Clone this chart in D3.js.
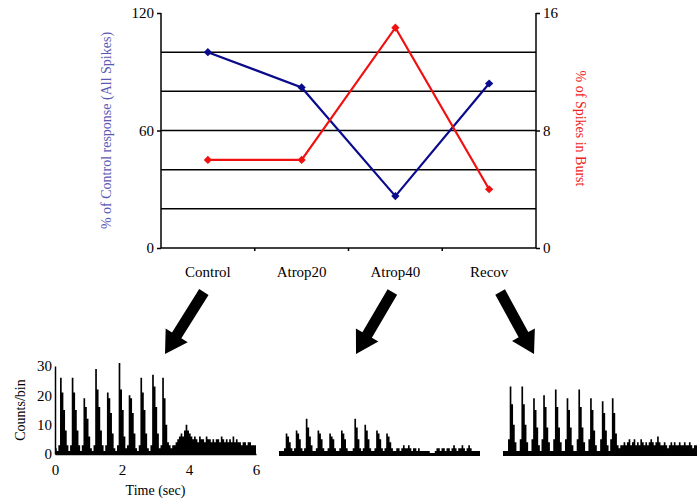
<!DOCTYPE html>
<html>
<head>
<meta charset="utf-8">
<script src="https://cdn.jsdelivr.net/npm/d3@7/dist/d3.min.js"></script>
<style>
  body { margin: 0; background: #fff; }
  svg { display: block; font-family: "Liberation Serif", "Times New Roman", serif; }
</style>
</head>
<body>
<div id="chart"></div>
<script>
// Top chart data
const conditions = ["Control", "Atrop20", "Atrop40", "Recov"];
const allSpikes = [100, 82, 26.5, 84];      // % of control response (left axis)
const burstSpikes = [6, 6, 15, 4];           // % of spikes in burst (right axis)
const leftTicks = [0, 60, 120];
const rightTicks = [0, 8, 16];
const gridValues = [20, 40, 60, 80, 100];

// Histogram data: counts per 50 ms bin over 6 s
const binWidth = 0.05;
const histTicks = [0, 2, 4, 6];
const countTicks = [0, 10, 20, 30];
const controlCounts = [
  2, 1, 3,
  26, 21, 15, 8, 3, 1, 3,
  26, 21, 15, 8, 3, 1, 3,
  19, 16, 12, 6, 2, 1, 3,
  29, 22, 16, 8, 3, 1, 3,
  21, 19, 14, 7, 2, 1, 3,
  31, 22, 15, 6, 2, 3,
  20, 19, 14, 7, 2, 1, 3,
  26, 21, 15, 7, 2, 1, 3,
  27, 23, 16, 7, 2, 3,
  26, 19, 10, 4, 3,
  2, 3, 3, 4, 5, 6, 7, 6, 8, 10,
  8, 7, 6, 5, 6, 5, 4, 6, 5, 5,
  4, 6, 5, 5, 4, 5, 4, 5, 5, 4,
  6, 5, 4, 5, 4, 5, 4, 6, 4, 5,
  4, 4, 3, 4, 4, 3, 4, 4, 3, 3, 3
];
const atrop40Counts = [
  1, 1, 1, 2,
  7, 6, 4, 2, 1, 2,
  8, 7, 5, 2, 1, 2,
  12, 9, 6, 3, 1, 1, 2,
  8, 7, 5, 2, 1, 1, 2,
  7, 6, 5, 2, 1, 1, 2,
  8, 7, 5, 2, 1, 1, 1, 2,
  12, 9, 5, 2, 1, 2,
  10, 8, 5, 2, 1, 1, 2,
  8, 7, 5, 2, 1, 2,
  7, 6, 4, 2, 1, 1,
  2, 2, 1, 2, 3, 2, 2, 3, 2, 1,
  2, 2, 1, 2, 1, 1, 1, 1, 1, 1,
  0, 0, 0, 1, 2, 2, 1, 2, 2, 1,
  2, 2, 1, 2, 3, 2, 1, 2, 2, 3,
  2, 1, 2, 3, 2, 1, 1, 1, 1, 1
];
const recovCounts = [
  1, 1, 1, 5,
  23, 17, 10, 4, 1, 1, 5,
  23, 17, 10, 4, 1, 1, 5,
  19, 15, 9, 3, 1, 5,
  20, 16, 9, 4, 1, 1, 5,
  22, 16, 9, 4, 1, 1, 5,
  19, 15, 9, 3, 1, 1, 5,
  22, 16, 9, 4, 1, 1, 5,
  19, 15, 8, 3, 1, 1, 5,
  18, 14, 8, 3, 1, 5,
  19, 14, 7, 3, 2,
  3, 3, 4, 3, 4, 5, 3, 4, 5, 3,
  4, 3, 5, 4, 3, 4, 3, 4, 5, 4,
  3, 4, 6, 4, 3, 3, 4, 3, 2, 3,
  4, 3, 4, 3, 3, 4, 3, 3, 4, 3,
  3, 4, 3, 2, 3, 3, 3, 2, 3, 3
];

const W = 697, H = 500;
const svg = d3.select("#chart").append("svg")
  .attr("width", W)
  .attr("height", H);

// ---------- top chart ----------
const plotL = 161, plotR = 536, plotT = 13, plotB = 248;
const x = d3.scaleBand().domain(conditions).range([plotL, plotR]);
const yL = d3.scaleLinear().domain([0, 120]).range([plotB, plotT]);
const yR = d3.scaleLinear().domain([0, 16]).range([plotB, plotT]);

// grid lines
svg.append("g").selectAll("line")
  .data(gridValues)
  .enter().append("line")
  .attr("x1", plotL).attr("x2", plotR)
  .attr("y1", d => yL(d)).attr("y2", d => yL(d))
  .style("stroke", "#000")
  .style("stroke-width", 1.5);

// left axis
const leftAxis = svg.append("g")
  .attr("transform", `translate(${plotL},0)`)
  .call(d3.axisLeft(yL).tickValues(leftTicks).tickSize(4).tickPadding(3));
// right axis
const rightAxis = svg.append("g")
  .attr("transform", `translate(${plotR},0)`)
  .call(d3.axisRight(yR).tickValues(rightTicks).tickSize(4).tickPadding(3));
// bottom axis
const bottomAxis = svg.append("g")
  .attr("transform", `translate(0,${plotB})`)
  .call(d3.axisBottom(x).tickSize(0).tickPadding(18));

[leftAxis, rightAxis, bottomAxis].forEach(g => {
  g.selectAll("path, line").style("stroke", "#000").style("stroke-width", 1.5);
  g.selectAll("text").style("font-family", "Liberation Serif").style("font-size", "15px").style("fill", "#000");
});
leftAxis.select(".domain").attr("d", `M0,${plotT}V${plotB}`);
rightAxis.select(".domain").attr("d", `M0,${plotT}V${plotB}`);
bottomAxis.select(".domain").attr("d", `M${plotL},0H${plotR}`);

// small boundary ticks between categories
bottomAxis.selectAll(".sep")
  .data(conditions.slice(1))
  .enter().append("line")
  .attr("class", "sep")
  .attr("x1", d => x(d)).attr("x2", d => x(d))
  .attr("y1", 0).attr("y2", 3)
  .style("stroke", "#000").style("stroke-width", 1.5);

// axis titles
svg.append("text")
  .attr("transform", `translate(106,${(plotT + plotB) / 2}) rotate(-90)`)
  .attr("text-anchor", "middle")
  .attr("dominant-baseline", "central")
  .style("font-size", "14px")
  .style("fill", "#5a5ab4")
  .text("% of Control response (All Spikes)");

svg.append("text")
  .attr("transform", `translate(580,${(plotT + plotB) / 2 - 2}) rotate(90)`)
  .attr("text-anchor", "middle")
  .attr("dominant-baseline", "central")
  .style("font-size", "14px")
  .style("fill", "#ee2222")
  .text("% of Spikes in Burst");

const cx = d => x(d) + x.bandwidth() / 2;

function drawSeries(values, yScale, color) {
  const pts = conditions.map((c, i) => [cx(c), yScale(values[i])]);
  svg.append("path")
    .datum(pts)
    .attr("d", d3.line())
    .style("fill", "none")
    .style("stroke", color)
    .style("stroke-width", 2.2);
  svg.append("g").selectAll("path")
    .data(pts)
    .enter().append("path")
    .attr("d", d3.symbol(d3.symbolSquare, 34))
    .attr("transform", d => `translate(${d[0]},${d[1]}) rotate(45)`)
    .style("fill", color);
}
drawSeries(allSpikes, yL, "#0a0a8c");
drawSeries(burstSpikes, yR, "#f01010");

// ---------- arrows ----------
function arrowPath(x1, y1, x2, y2) {
  const dx = x2 - x1, dy = y2 - y1;
  const len = Math.hypot(dx, dy);
  const ux = dx / len, uy = dy / len;
  const px = -uy, py = ux;
  const sw = 5.5, hw = 13, hl = 22;
  const bx = x2 - ux * hl, by = y2 - uy * hl;
  const p = [
    [x1 + px * sw, y1 + py * sw],
    [bx + px * sw, by + py * sw],
    [bx + px * hw, by + py * hw],
    [x2, y2],
    [bx - px * hw, by - py * hw],
    [bx - px * sw, by - py * sw],
    [x1 - px * sw, y1 - py * sw]
  ];
  return "M" + p.map(q => q.join(",")).join("L") + "Z";
}
const arrows = [
  [cx("Control") - 4, 292, 165, 354],
  [cx("Atrop40") - 3, 292, 356, 354],
  [cx("Recov") + 11, 292, 534, 354]
];
svg.append("g").selectAll("path")
  .data(arrows)
  .enter().append("path")
  .attr("d", d => arrowPath(...d))
  .style("fill", "#000");

// ---------- histograms ----------
const yH = d3.scaleLinear().domain([0, 30]).range([454, 366]);
const panels = [
  { counts: controlCounts, x0: 55, axes: true },
  { counts: atrop40Counts, x0: 279, axes: false },
  { counts: recovCounts, x0: 503, axes: false }
];

panels.forEach(p => {
  const xs = d3.scaleLinear().domain([0, 6]).range([p.x0, p.x0 + 201]);
  const g = svg.append("g");
  const stepped = p.counts.concat([p.counts[p.counts.length - 1]]);
  const area = d3.area()
    .x((d, i) => xs(i * binWidth))
    .y0(yH(0))
    .y1(d => yH(d))
    .curve(d3.curveStepAfter);
  g.append("path")
    .datum(stepped)
    .attr("d", area)
    .style("fill", "#000");

  if (p.axes) {
    const ax = g.append("g")
      .attr("transform", `translate(0,${yH(0)})`)
      .call(d3.axisBottom(xs).tickValues(histTicks).tickFormat(d3.format("d")).tickSize(0).tickPadding(10));
    const ay = g.append("g")
      .attr("transform", `translate(${p.x0},0)`)
      .call(d3.axisLeft(yH).tickValues(countTicks).tickSize(0).tickPadding(3));
    [ax, ay].forEach(a => {
      a.selectAll("path").style("stroke", "#000").style("stroke-width", 1.5);
      a.selectAll("text").style("font-family", "Liberation Serif").style("font-size", "15px").style("fill", "#000");
    });
    g.append("text")
      .attr("x", (p.x0 + p.x0 + 201) / 2)
      .attr("y", 495)
      .attr("text-anchor", "middle")
      .style("font-size", "14px")
      .text("Time (sec)");
    g.append("text")
      .attr("transform", `translate(20,${yH(15)}) rotate(-90)`)
      .attr("text-anchor", "middle")
      .attr("dominant-baseline", "central")
      .style("font-size", "14px")
      .text("Counts/bin");
  } else {
    g.append("line")
      .attr("x1", xs(0)).attr("x2", xs(6))
      .attr("y1", yH(0) + 0.5).attr("y2", yH(0) + 0.5)
      .style("stroke", "#000")
      .style("stroke-width", 3);
  }
});
</script>
</body>
</html>
